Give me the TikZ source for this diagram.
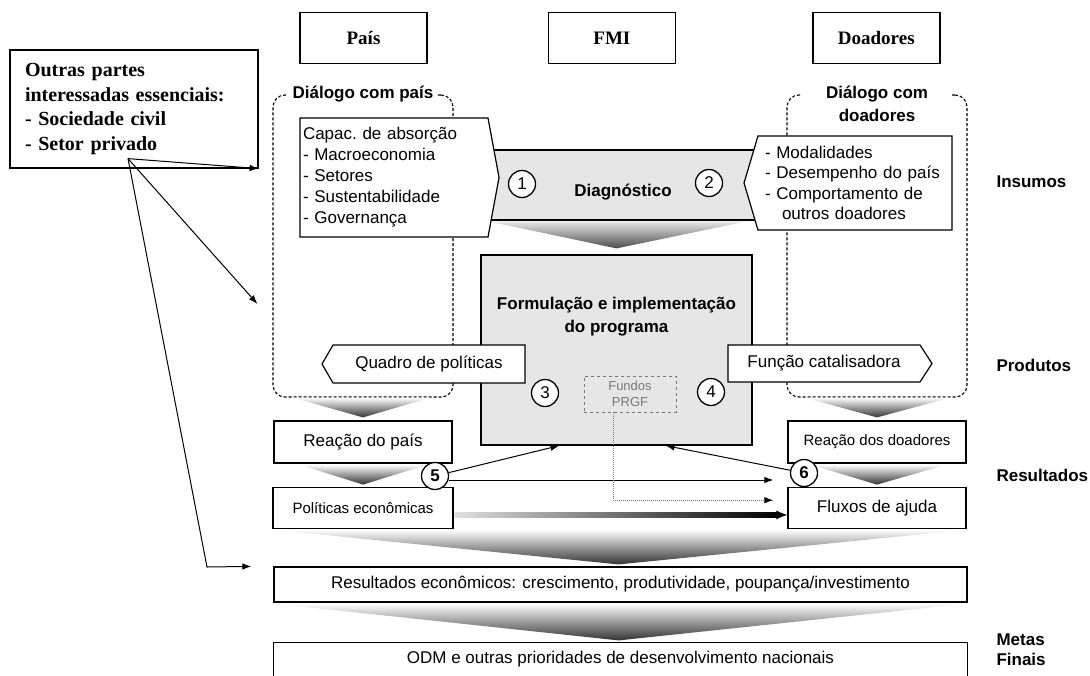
\documentclass[tikz,border=0pt]{standalone}
\usepackage{fontspec}
\setmainfont{Liberation Sans}
\newfontfamily\headfont{Liberation Serif}
\usepackage{tikz}
\usetikzlibrary{shapes,arrows,arrows.meta,positioning,calc}
\definecolor{BandGray}{RGB}{230,230,230}
\definecolor{FundGray}{RGB}{120,120,120}

\begin{document}
\begin{tikzpicture}[x=1pt, y=-1pt, node distance=20pt]
  \tikzstyle{header} = [rectangle, draw, line width=1.4pt, fill=white, minimum width=127pt, minimum height=51pt, font=\headfont\fontsize{19}{22}\selectfont\bfseries]
  \tikzstyle{block} = [rectangle, draw, line width=1.2pt, fill=white, inner sep=2pt, font=\fontsize{17}{20}\selectfont]
  \tikzstyle{inarrow} = [signal, draw, line width=1.2pt, fill=white, inner sep=3pt, font=\fontsize{17}{21}\selectfont]
  \tikzstyle{dialog} = [rectangle, draw, line width=1.1pt, dash pattern=on 3pt off 2pt, rounded corners=12pt]
  \tikzstyle{dlabel} = [fill=white, inner sep=5pt, font=\fontsize{17}{23}\selectfont\bfseries, align=center]
  \tikzstyle{num} = [circle, draw, line width=1.3pt, fill=white, minimum size=27pt, inner sep=0pt, font=\fontsize{17}{17}\selectfont]
  \tikzstyle{rowlabel} = [anchor=west, font=\fontsize{17}{20}\selectfont\bfseries, align=left]
  \tikzstyle{funnel} = [top color=white, bottom color=black!80]
  \tikzstyle{line} = [draw, line width=1pt, -{Latex[length=9pt, width=6.5pt]}]

  \useasboundingbox (0,0) rectangle (1090,675);

  % actors
  \node [header] (pais) at (363.5,38) {País};
  \node [header, right=120pt of pais] (fmi) {FMI};
  \node [header, right=136pt of fmi] (doad) {Doadores};
  \node [rectangle, draw, line width=1.2pt, minimum width=248pt, minimum height=118pt, text width=218pt, align=left, font=\headfont\fontsize{20}{24.5}\selectfont\bfseries] (outras) at (134,109) {Outras partes\\interessadas essenciais:\\- Sociedade civil\\- Setor privado};

  % dialogue areas
  \node [dialog, minimum width=180pt, minimum height=302pt] (dpais) at (363,246) {};
  \node [dialog, minimum width=180pt, minimum height=302pt] (ddoad) at (877,246) {};

  % diagnostic band and program
  \node [rectangle, draw, line width=1.2pt, fill=BandGray, minimum width=300pt, minimum height=70pt] (diag) at (620,185) {};
  \node [rectangle, draw, line width=1.2pt, fill=BandGray, minimum width=271pt, minimum height=190pt] (form) at (616.5,350) {};
  \shade [top color=BandGray, bottom color=black!70] ($(diag.south west)+(20,1)$) -- ($(diag.south east)+(-25,1)$) -- ($(form.north)+(0,-6)$) -- cycle;

  % inputs
  \node [inarrow, signal to=east, signal pointer angle=159, minimum width=198pt, minimum height=119pt, text width=182pt, align=left] (capac) at (394,177.5) {Capac.\ de absorção\\- Macroeconomia\\- Setores\\- Sustentabilidade\\- Governança};
  \node [inarrow, signal to=west, signal pointer angle=147, minimum width=208pt, minimum height=94pt, text width=180pt, align=left, font=\fontsize{17}{20.5}\selectfont] (donin) at (855,183) {- Modalidades\\- Desempenho do país\\- Comportamento de\\\hspace*{17pt}outros doadores};
  \node [dlabel] (dpaislbl) at (dpais.north) {Diálogo com país};
  \node [dlabel, minimum width=150pt] (ddoadlbl) at (877,103.5) {Diálogo com\\doadores};

  % outputs
  \node [inarrow, signal to=west, signal pointer angle=120, minimum width=203pt, minimum height=38pt] (quadro) at (429,364) {Quadro de políticas};
  \node [inarrow, signal to=east, signal pointer angle=114, minimum width=204pt, minimum height=37pt] (funcao) at (824,363.5) {Função catalisadora};

  \node [font=\fontsize{17}{20}\selectfont\bfseries] (diaglbl) at (623,192) {Diagnóstico};
  \node [font=\fontsize{17}{23}\selectfont\bfseries, align=center] (formlbl) at (616.5,316.5) {Formulação e implementação\\do programa};
  \node [rectangle, draw=FundGray, dashed, line width=0.8pt, minimum width=92pt, minimum height=36pt, text=FundGray, align=center, font=\fontsize{13}{16}\selectfont] (prgf) at (630,394) {Fundos\\PRGF};
  \node [num] (n1) at (522,184) {1};
  \node [num] (n2) at (709,183) {2};
  \node [num] (n3) at (545,393) {3};
  \node [num] (n4) at (711,392) {4};

  % results
  \node [block, minimum width=178pt, minimum height=42pt] (reacp) at (363,442) {Reação do país};
  \node [block, minimum width=180pt, minimum height=41pt, font=\fontsize{15}{18}\selectfont, below=23pt of reacp] (pol) {Políticas econômicas};
  \node [block, minimum width=178pt, minimum height=42pt, font=\fontsize{15}{18}\selectfont] (reacd) at (877,442) {Reação dos doadores};
  \node [block, minimum width=178pt, minimum height=41pt, below=23pt of reacd] (flux) {Fluxos de ajuda};
  \node [block, minimum width=693pt, minimum height=35pt] (resec) at (620.5,584.5) {Resultados econômicos: crescimento, produtividade, poupança/investimento};
  \node [block, draw=none, minimum width=693pt, minimum height=32pt] (odm) at (620.5,659) {ODM e outras prioridades de desenvolvimento nacionais};
  \draw [line width=1.2pt] (odm.south west) -- (odm.north west) -- (odm.north east) -- (odm.south east);

  \shade [funnel] ($(dpais.south west)+(20,0)$) -- ($(dpais.south east)+(-23,0)$) -- ($(reacp.north)+(0,-3)$) -- cycle;
  \shade [funnel] ($(reacp.south west)+(26,1)$) -- ($(reacp.south east)+(-25,1)$) -- ($(pol.north)+(0,-2)$) -- cycle;
  \shade [funnel] ($(ddoad.south west)+(18,0)$) -- ($(ddoad.south east)+(-17,0)$) -- ($(reacd.north)+(0,-3)$) -- cycle;
  \shade [funnel] ($(reacd.south west)+(23,1)$) -- ($(reacd.south east)+(-20,1)$) -- ($(flux.north)+(0,-2)$) -- cycle;
  \shade [funnel] ($(pol.south west)+(0,1)$) -- ($(flux.south east)+(0,1)$) -- ($(resec.north)+(-2,-2)$) -- cycle;
  \shade [funnel] ($(resec.south west)+(0,1)$) -- ($(resec.south east)+(0,1)$) -- ($(odm.north)+(-2,-2)$) -- cycle;

  \node [num, font=\fontsize{17}{17}\selectfont\bfseries] (n5) at (435,476) {5};
  \node [num, font=\fontsize{17}{17}\selectfont\bfseries] (n6) at (804,473) {6};

  % links
  \coordinate (src) at ($(outras.south)+(-6,-10)$);
  \coordinate (t2) at ($(dpais.west)+(-15,58)$);
  \coordinate (bend) at (207,567);
  \path [line] (src) -- (outras.south east);
  \path [line] (src) -- (t2);
  \path [line] (src) -- (bend) -- ($(resec.north west)+(-22,0)$);

  \coordinate (h5) at (n5.east -| flux.west);
  \path [line] (n5) -- ($(form.south west)+(79,0)$);
  \path [line] (n6) -- ($(form.south east)+(-87,0)$);
  \path [line] ($(n5.east)+(0,4)$) -- ($(h5)+(-14,4)$);
  \path [draw=FundGray, densely dotted, line width=1pt, -{Latex[length=9pt, width=6.5pt, fill=black, black]}] ($(prgf.south)+(-17,0)$) |- ($(flux.west)+(-14,-7.5)$);
  \shade [left color=black!12, right color=black] ($(pol.east)+(1,5)$) rectangle ($(flux.west)+(-10,9.5)$);
  \path [draw, line width=1pt, -{Latex[length=11pt, width=9pt]}] ($(flux.west)+(-12,7.25)$) -- ($(flux.west)+(0,7.25)$);

  % levels
  \node [rowlabel] (insumos) at (993,182) {Insumos};
  \node [rowlabel] (produtos) at (993,365) {Produtos};
  \node [rowlabel] (resultados) at (993,475) {Resultados};
  \node [rowlabel] (metas) at (993,650) {Metas\\Finais};
\end{tikzpicture}
\end{document}
